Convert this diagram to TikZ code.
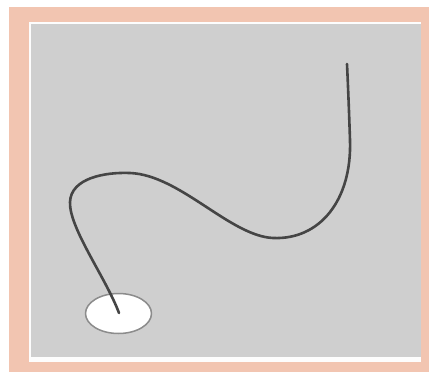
\documentclass[tikz,border=0pt]{standalone}
\usepackage{tikz}
\definecolor{peach}{HTML}{F2C5B1}
\definecolor{panel}{HTML}{CFCFCF}
\definecolor{cord}{HTML}{454545}
\begin{document}
\begin{tikzpicture}[line cap=round,line join=round,x=1pt,y=-1pt]
\useasboundingbox (0,0) rectangle (429,372);
\fill[white] (0,0) rectangle (429,372);
\fill[peach] (9,7) rectangle (429,372);
\fill[white!95!panel] (29,22) rectangle (421,362);
\fill[panel] (31,24) rectangle (421,357);
\draw[fill=white,draw=black!45,line width=1.5pt] (118.5,313.5) ellipse (33 and 20);
\coordinate (tip) at (119,313);
\coordinate (left) at (70,202);
\coordinate (crest) at (130,173);
\coordinate (dip) at (273,238);
\coordinate (rise) at (350,140);
\coordinate (top) at (347,64);
\draw[cord,line width=2.6pt] (tip)
    .. controls (106,278) and (69,228) .. (left)
    .. controls (71,178) and (105,172) .. (crest)
    .. controls (180,175) and (230,236) .. (dip)
    .. controls (320,240) and (352,200) .. (rise)
    .. controls (349,110) and (348,85) .. (top);
\end{tikzpicture}
\end{document}
